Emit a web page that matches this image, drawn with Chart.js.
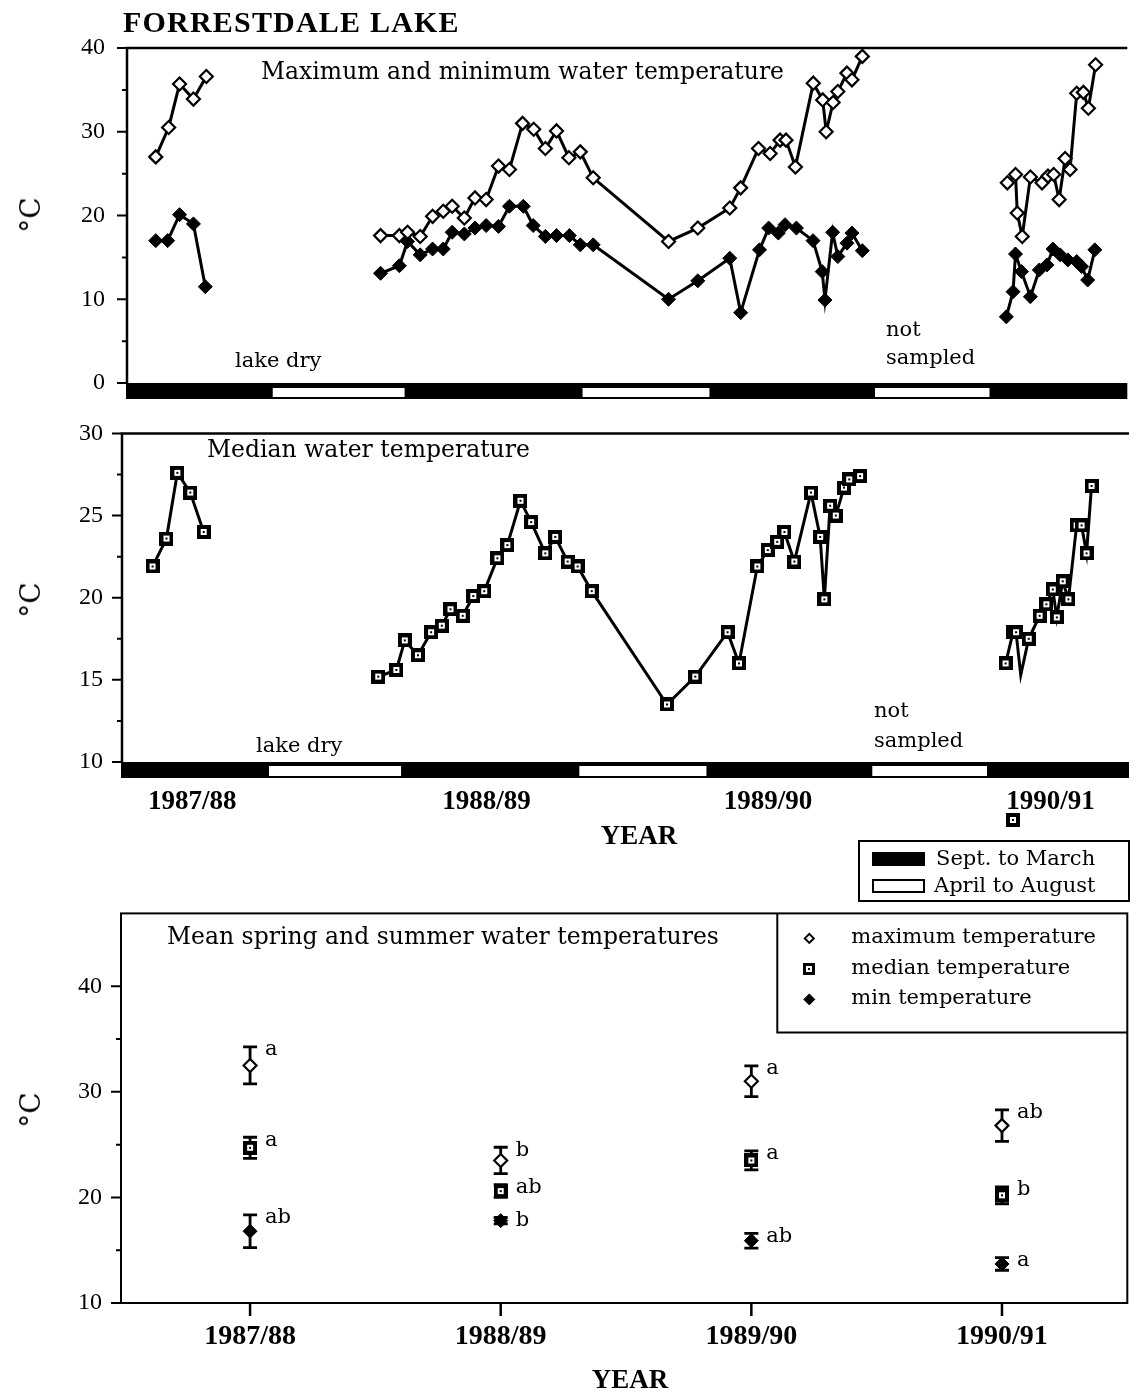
<!DOCTYPE html>
<html>
<head>
<meta charset="utf-8">
<title>Forrestdale Lake water temperatures</title>
<script src="https://cdn.jsdelivr.net/npm/chart.js@4.4.1/dist/chart.umd.min.js"></script>
<style>
  html, body { margin: 0; padding: 0; background: #fff; }
  #page { position: relative; width: 1136px; height: 1396px; overflow: hidden; background: #fff; }
  #page canvas { position: absolute; left: 0; }
  .txt { position: absolute; white-space: nowrap; color: #000; line-height: 1; }
  .box { position: absolute; box-sizing: border-box; border: 2px solid #000; }
</style>
</head>
<body>
<div id="page">
  <canvas id="maxMinChart" width="1136" height="420" style="top:0"></canvas>
  <canvas id="medianChart" width="1136" height="470" style="top:400px"></canvas>
  <canvas id="meanChart" width="1136" height="516" style="top:880px"></canvas>
  <div class="box" style="left:858px;top:840px;width:272px;height:62px"></div>
  <div class="box" style="left:872px;top:852px;width:53px;height:14px;background:#000"></div>
  <div class="box" style="left:872px;top:879px;width:53px;height:14px;background:#fff"></div>
</div>
<script>
// ---- Sampling data: x = months after 1 Sept 1987, null separates sampling seasons ----
const maxMonth = [2.32, 2.84, 3.28, 3.84, 4.36, null,
  11.39, 12.15, 12.48, 12.99, 13.49, 13.92, 14.28, 14.77, 15.2, 15.65, 16.15, 16.59, 17.12, 17.57, 18.04, 18.49, 18.99, 19.45, 19.97,
  23.01, 24.19, 25.48, 25.92, 26.64, 27.11, 27.51, 27.75, 28.13, 28.85, 29.23, 29.37, 29.65, 29.84, 30.21, 30.41, 30.83, null,
  36.68, 37.01, 37.08, 37.28, 37.61, 38.08, 38.32, 38.55, 38.77, 39.01, 39.21, 39.48, 39.75, 39.95, 40.24];
const maxTemp = [27.0, 30.5, 35.7, 33.9, 36.6, null,
  17.6, 17.6, 18.0, 17.5, 19.9, 20.5, 21.1, 19.7, 22.1, 21.9, 25.9, 25.5, 31.0, 30.3, 28.0, 30.1, 26.9, 27.6, 24.5,
  16.9, 18.5, 20.9, 23.3, 28.0, 27.4, 29.0, 29.0, 25.8, 35.8, 33.8, 30.0, 33.5, 34.8, 37.0, 36.2, 39.0, null,
  23.9, 24.9, 20.3, 17.5, 24.6, 23.9, 24.7, 24.9, 21.9, 26.8, 25.5, 34.6, 34.7, 32.8, 38.0];

const minMonth = [2.32, 2.80, 3.28, 3.84, 4.32, null,
  11.39, 12.15, 12.48, 12.99, 13.49, 13.92, 14.28, 14.77, 15.2, 15.65, 16.15, 16.59, 17.15, 17.55, 18.04, 18.49, 19.01, 19.45, 19.97,
  23.01, 24.19, 25.48, 25.92, 26.68, 27.05, 27.44, 27.71, 28.17, 28.84, 29.21, 29.32, 29.63, 29.84, 30.21, 30.41, 30.83, null,
  36.64, 36.91, 37.01, 37.25, 37.61, 37.97, 38.28, 38.52, 38.81, 39.12, 39.48, 39.68, 39.92, 40.21];
const minTemp = [17.0, 17.0, 20.1, 19.0, 11.5, null,
  13.1, 14.0, 16.9, 15.3, 16.0, 16.0, 18.0, 17.8, 18.5, 18.8, 18.7, 21.1, 21.1, 18.8, 17.5, 17.6, 17.6, 16.5, 16.5,
  10.0, 12.2, 14.9, 8.4, 15.9, 18.5, 17.9, 18.9, 18.5, 17.0, 13.3, 9.9, 18.0, 15.1, 16.7, 17.9, 15.8, null,
  7.9, 10.9, 15.4, 13.3, 10.3, 13.5, 14.1, 16.0, 15.3, 14.7, 14.5, 13.9, 12.3, 15.9];

const medMonth = [2.35, 2.91, 3.35, 3.87, 4.41, null,
  11.44, 12.17, 12.51, 13.04, 13.57, 14.0, 14.35, 14.84, 15.27, 15.71, 16.24, 16.64, 17.17, 17.6, 18.17, 18.57, 19.07, 19.47, 20.04,
  23.07, 24.21, 25.51, 25.97, 26.71, 27.13, 27.51, 27.8, 28.2, 28.87, 29.24, 29.41, 29.64, 29.87, 30.2, 30.41, 30.85, null,
  36.71, 37.01, 37.13, 37.32, 37.64, 38.08, 38.35, 38.61, 38.77, 39.01, 39.24, 39.57, 39.77, 39.97, 40.17];
const medTemp = [21.9, 23.6, 27.6, 26.4, 24.0, null,
  15.2, 15.6, 17.4, 16.5, 17.9, 18.3, 19.3, 18.9, 20.1, 20.4, 22.4, 23.2, 25.9, 24.6, 22.7, 23.7, 22.2, 21.9, 20.4,
  13.5, 15.2, 17.9, 16.0, 21.9, 22.9, 23.4, 24.0, 22.2, 26.4, 23.7, 19.9, 25.6, 25.0, 26.7, 27.2, 27.4, null,
  16.0, 17.9, 17.9, 15.3, 17.5, 18.9, 19.6, 20.5, 18.8, 21.0, 19.9, 24.4, 24.4, 22.7, 26.8];
const medLineOnly = [37.32];            // vertex of the median line drawn without a marker
const medStray = { month: 37.0, temp: 6.5 };  // lone median value below the axis range

// April–August periods (white on the season bar); the rest is Sept.–March
const aprAugSpans = [[7.0, 12.4], [19.5, 24.7], [31.3, 36.0]];
const yearLabels = ['1987/88', '1988/89', '1989/90', '1990/91'];
const yearTickMonths = [3.95, 15.8, 27.14, 38.52];

// ---- Mean spring and summer temperatures per year (± error) ----
const meanMax = [32.5, 23.5, 31.0, 26.8];
const errMax = [1.75, 1.25, 1.45, 1.5];
const meanMedian = [24.7, 20.6, 23.5, 20.2];
const errMedian = [1.0, 0.6, 0.9, 0.8];
const meanMin = [16.8, 17.8, 15.9, 13.7];
const errMin = [1.55, 0.3, 0.7, 0.6];
const sigMax = ['a', 'b', 'a', 'ab'];
const sigMedian = ['a', 'ab', 'a', 'b'];
const sigMin = ['ab', 'b', 'ab', 'a'];

// ---------------------------------------------------------------
Chart.defaults.font.family = '"Liberation Serif", serif';
Chart.defaults.color = '#000';
const page = document.getElementById('page');

function squareMarker(size, border, dot) {
  const c = document.createElement('canvas');
  c.width = size; c.height = size;
  const g = c.getContext('2d');
  g.fillStyle = '#000'; g.fillRect(0, 0, size, size);
  g.fillStyle = '#fff'; g.fillRect(border, border, size - 2 * border, size - 2 * border);
  const d0 = Math.floor((size - dot) / 2);
  g.fillStyle = '#000'; g.fillRect(d0, d0, dot, dot);
  return c;
}
const squareImg = squareMarker(14, 4, 2);
const legendSquareImg = squareMarker(12, 3, 2);

function drawMarker(ctx, style, x, y, r, fill, bw) {
  if (typeof style === 'object') {
    ctx.drawImage(style, Math.round(x - style.width / 2), Math.round(y - style.height / 2));
    return;
  }
  ctx.beginPath();
  ctx.moveTo(x - r, y); ctx.lineTo(x, y - r); ctx.lineTo(x + r, y); ctx.lineTo(x, y + r); ctx.closePath();
  ctx.fillStyle = fill; ctx.fill();
  ctx.lineWidth = bw; ctx.strokeStyle = '#000'; ctx.stroke();
}

function splitRuns(xs, ys) {
  const runs = []; let cur = [];
  xs.forEach((x, i) => {
    if (x === null || ys[i] === null) { if (cur.length) runs.push(cur); cur = []; }
    else cur.push({ x, y: ys[i] });
  });
  if (cur.length) runs.push(cur);
  return runs;
}

const lineBase = { borderColor: '#000', borderWidth: 3, tension: 0, fill: false,
  pointBorderColor: '#000', pointHoverRadius: 0 };
const maxStyle = { ...lineBase, pointStyle: 'rectRot', pointRadius: 6.5, pointBorderWidth: 2.2, pointBackgroundColor: '#fff' };
const minStyle = { ...lineBase, pointStyle: 'rectRot', pointRadius: 7, pointBorderWidth: 1, pointBackgroundColor: '#000' };
const medStyle = { ...lineBase, borderWidth: 3, pointStyle: squareImg, pointBorderWidth: 0,
  pointRadius: c => (c.raw && medLineOnly.includes(c.raw.x)) ? 0 : 7 };

function drawYTicks(ctx, y, left) {
  const majors = y.ticks.map(t => t.value);
  ctx.lineWidth = 2;
  ctx.beginPath();
  majors.forEach((v, i) => {
    const py = y.getPixelForValue(v);
    ctx.moveTo(left - 10, py); ctx.lineTo(left, py);
    if (i > 0) {
      const pm = y.getPixelForValue((v + majors[i - 1]) / 2);
      ctx.moveTo(left - 5, pm); ctx.lineTo(left, pm);
    }
  });
  ctx.stroke();
}

// Frame, y ticks and Sept.–March / April–August bar under the time-series panels
function seasonFrame(barHeight, innerTop, innerBottom, extra) {
  return {
    id: 'seasonFrame',
    beforeDatasetsDraw(chart) {
      const { ctx, chartArea: a, scales: { x, y } } = chart;
      ctx.save();
      ctx.fillStyle = '#000';
      ctx.fillRect(a.left - 1, a.bottom, a.right - a.left + 1, barHeight);
      ctx.fillStyle = '#fff';
      for (const [from, to] of aprAugSpans) {
        const x0 = x.getPixelForValue(from), x1 = x.getPixelForValue(to);
        ctx.fillRect(x0 + 1, a.bottom + innerTop, x1 - x0 - 2, barHeight - innerTop - innerBottom);
      }
      ctx.strokeStyle = '#000';
      ctx.lineWidth = 2.5;
      ctx.beginPath();
      ctx.moveTo(a.left, a.top); ctx.lineTo(a.right, a.top);
      ctx.moveTo(a.left, a.top - 1.25); ctx.lineTo(a.left, a.bottom);
      ctx.stroke();
      drawYTicks(ctx, y, a.left);
      ctx.restore();
    },
    afterDatasetsDraw(chart) { if (extra) extra(chart); }
  };
}

function yAxis(min, max, step, width, pad) {
  return {
    min, max,
    afterFit: s => { s.width = width; },
    grid: { display: false, drawTicks: false },
    border: { display: false },
    ticks: { stepSize: step, includeBounds: false, padding: pad, color: '#000',
      font: { family: '"Liberation Serif", serif', size: 24 } }
  };
}

const common = {
  responsive: false, animation: false, events: [],
  plugins: { legend: { display: false }, tooltip: { enabled: false } }
};

// ---- Panel 1: maximum and minimum ----
new Chart(document.getElementById('maxMinChart'), {
  type: 'line',
  data: { datasets: [
    ...splitRuns(maxMonth, maxTemp).map(run => ({ label: 'maximum', data: run, ...maxStyle })),
    ...splitRuns(minMonth, minTemp).map(run => ({ label: 'minimum', data: run, ...minStyle }))
  ] },
  options: {
    ...common,
    layout: { padding: { top: 48, bottom: 37, left: 0, right: 0 } },
    scales: {
      x: { type: 'linear', min: 1.16, max: 41.52, display: false },
      y: yAxis(0, 40, 10, 127, 22)
    }
  },
  plugins: [seasonFrame(16, 5, 2)]
});

// ---- Panel 2: median ----
new Chart(document.getElementById('medianChart'), {
  type: 'line',
  data: { datasets: splitRuns(medMonth, medTemp).map(run => ({ label: 'median', data: run, ...medStyle })) },
  options: {
    ...common,
    layout: { padding: { top: 26, bottom: 48, left: 0, right: 0 } },
    scales: {
      x: {
        type: 'linear', min: 1.12, max: 41.68,
        afterBuildTicks: s => { s.ticks = yearTickMonths.map(v => ({ value: v })); },
        afterFit: s => { s.height = 60; },
        grid: { display: false, drawTicks: false },
        border: { display: false },
        ticks: { autoSkip: false, maxRotation: 0, padding: 24, color: '#000',
          callback: (v, i) => yearLabels[i],
          font: { family: '"Liberation Serif", serif', size: 27, weight: 'bold' } }
      },
      y: yAxis(10, 30, 5, 122, 19)
    }
  },
  plugins: [seasonFrame(16, 4, 2, chart => {
    const { ctx, scales: { x, y } } = chart;
    drawMarker(ctx, squareImg, x.getPixelForValue(medStray.month), y.getPixelForValue(medStray.temp));
  })]
});

// ---- Panel 3: mean spring and summer temperatures ----
const yearPoints = vals => vals.map((v, i) => ({ x: i + 1, y: v }));
const meanSets = [
  { label: 'maximum temperature', data: yearPoints(meanMax), errorBars: errMax, letters: sigMax,
    pointStyle: 'rectRot', pointRadius: 6.5, pointBorderWidth: 2.2, pointBackgroundColor: '#fff',
    legendStyle: 'rectRot', legendRadius: 4.5, legendBorder: 2 },
  { label: 'median temperature', data: yearPoints(meanMedian), errorBars: errMedian, letters: sigMedian,
    pointStyle: squareImg, pointRadius: 7, pointBorderWidth: 0, pointBackgroundColor: '#000',
    legendStyle: legendSquareImg, legendRadius: 6, legendBorder: 0 },
  { label: 'min temperature', data: yearPoints(meanMin), errorBars: errMin, letters: sigMin,
    pointStyle: 'rectRot', pointRadius: 7, pointBorderWidth: 1, pointBackgroundColor: '#000',
    legendStyle: 'rectRot', legendRadius: 5.5, legendBorder: 1 }
];

const meanDecor = {
  id: 'meanDecor',
  beforeDatasetsDraw(chart) {
    const { ctx, chartArea: a, scales: { x, y } } = chart;
    ctx.save();
    ctx.strokeStyle = '#000';
    ctx.lineWidth = 2;
    ctx.strokeRect(a.left, a.top, a.right - a.left, a.bottom - a.top);
    drawYTicks(ctx, y, a.left);
    ctx.lineWidth = 2.5;
    ctx.beginPath();
    x.ticks.forEach(t => { const px = x.getPixelForValue(t.value); ctx.moveTo(px, a.bottom); ctx.lineTo(px, a.bottom + 13); });
    ctx.stroke();
    // error bars
    ctx.lineWidth = 2.8;
    chart.data.datasets.forEach(ds => {
      ds.data.forEach((p, i) => {
        const e = ds.errorBars[i];
        const px = x.getPixelForValue(p.x);
        const top = y.getPixelForValue(p.y + e), bot = y.getPixelForValue(p.y - e);
        ctx.beginPath();
        ctx.moveTo(px, top); ctx.lineTo(px, bot);
        ctx.moveTo(px - 7, top); ctx.lineTo(px + 7, top);
        ctx.moveTo(px - 7, bot); ctx.lineTo(px + 7, bot);
        ctx.stroke();
      });
    });
    ctx.restore();
  },
  afterDatasetsDraw(chart) {
    const { ctx, chartArea: a, scales: { x, y } } = chart;
    ctx.save();
    ctx.fillStyle = '#000';
    ctx.font = '21px "DejaVu Serif"';
    ctx.textBaseline = 'middle';
    ctx.textAlign = 'left';
    chart.data.datasets.forEach(ds => {
      ds.data.forEach((p, i) => {
        ctx.fillText(ds.letters[i], x.getPixelForValue(p.x) + 15, y.getPixelForValue(p.y + ds.errorBars[i]) + 3);
      });
    });
    // legend
    const boxL = a.right - 350, boxB = a.top + 119;
    ctx.strokeStyle = '#000'; ctx.lineWidth = 2;
    ctx.beginPath(); ctx.moveTo(boxL, a.top); ctx.lineTo(boxL, boxB); ctx.lineTo(a.right, boxB); ctx.stroke();
    ctx.font = '21px "DejaVu Serif"';
    ctx.textBaseline = 'alphabetic';
    chart.data.datasets.forEach((ds, i) => {
      const cy = a.top + 25 + i * 30.5;
      drawMarker(ctx, ds.legendStyle, boxL + 32, cy, ds.legendRadius, ds.pointBackgroundColor, ds.legendBorder);
      ctx.fillStyle = '#000';
      ctx.fillText(ds.label, boxL + 74, cy + 5);
    });
    ctx.restore();
  }
};

new Chart(document.getElementById('meanChart'), {
  type: 'scatter',
  data: { datasets: meanSets.map(ds => ({ ...ds, showLine: false, pointBorderColor: '#000', pointHoverRadius: 0 })) },
  options: {
    ...common,
    layout: { padding: { top: 32, bottom: 33, left: 0, right: 3 } },
    scales: {
      x: {
        type: 'linear', min: 0.485, max: 4.5,
        afterBuildTicks: s => { s.ticks = yearLabels.map((_, i) => ({ value: i + 1 })); },
        afterFit: s => { s.height = 60; },
        grid: { display: false, drawTicks: false },
        border: { display: false },
        ticks: { autoSkip: false, maxRotation: 0, padding: 17, color: '#000',
          callback: (v, i) => yearLabels[i],
          font: { family: '"Liberation Serif", serif', size: 28, weight: 'bold' } }
      },
      y: yAxis(10, 46.9, 10, 121, 19)
    }
  },
  plugins: [meanDecor]
});

// ---- Text annotations ----
const BASELINE_K = { 'DejaVu Serif': 0.846, 'Liberation Serif': 0.837 };
function addText(str, x, baseline, o) {
  const fam = o.family || 'DejaVu Serif';
  const el = document.createElement('div');
  el.className = 'txt';
  el.textContent = str;
  el.style.fontFamily = '"' + fam + '"';
  el.style.fontSize = o.size + 'px';
  el.style.fontWeight = o.bold ? 'bold' : 'normal';
  if (o.spacing) el.style.letterSpacing = o.spacing + 'px';
  el.style.left = x + 'px';
  el.style.top = (baseline - BASELINE_K[fam] * o.size) + 'px';
  if (o.center) el.style.transform = 'translateX(-50%)';
  page.appendChild(el);
}
function addAxisTitle(str, cx, cy, size) {
  const el = document.createElement('div');
  el.className = 'txt';
  el.textContent = str;
  el.style.fontFamily = '"DejaVu Serif"';
  el.style.fontSize = size + 'px';
  el.style.left = cx + 'px';
  el.style.top = cy + 'px';
  el.style.transform = 'translate(-50%,-50%) rotate(-90deg)';
  page.appendChild(el);
}

addText('FORRESTDALE LAKE', 123, 32, { family: 'Liberation Serif', size: 30, bold: true, spacing: 1.2 });
addAxisTitle('°C', 31, 215, 28);
addAxisTitle('°C', 31, 600, 28);
addAxisTitle('°C', 31, 1110, 28);

addText('Maximum and minimum water temperature', 261, 80, { size: 23.5 });
addText('lake dry', 235, 368, { size: 21 });
addText('not', 886, 337, { size: 21 });
addText('sampled', 886, 365, { size: 21 });

addText('Median water temperature', 207, 458, { size: 23.5 });
addText('lake dry', 256, 753, { size: 21 });
addText('not', 874, 718, { size: 21 });
addText('sampled', 874, 748, { size: 21 });
addText('YEAR', 639, 845, { family: 'Liberation Serif', size: 27, bold: true, center: true });

addText('Sept. to March', 936, 866, { size: 21 });
addText('April to August', 934, 893, { size: 21 });

addText('Mean spring and summer water temperatures', 167, 945, { size: 23.5 });
addText('YEAR', 630, 1389, { family: 'Liberation Serif', size: 27, bold: true, center: true });
</script>
</body>
</html>
